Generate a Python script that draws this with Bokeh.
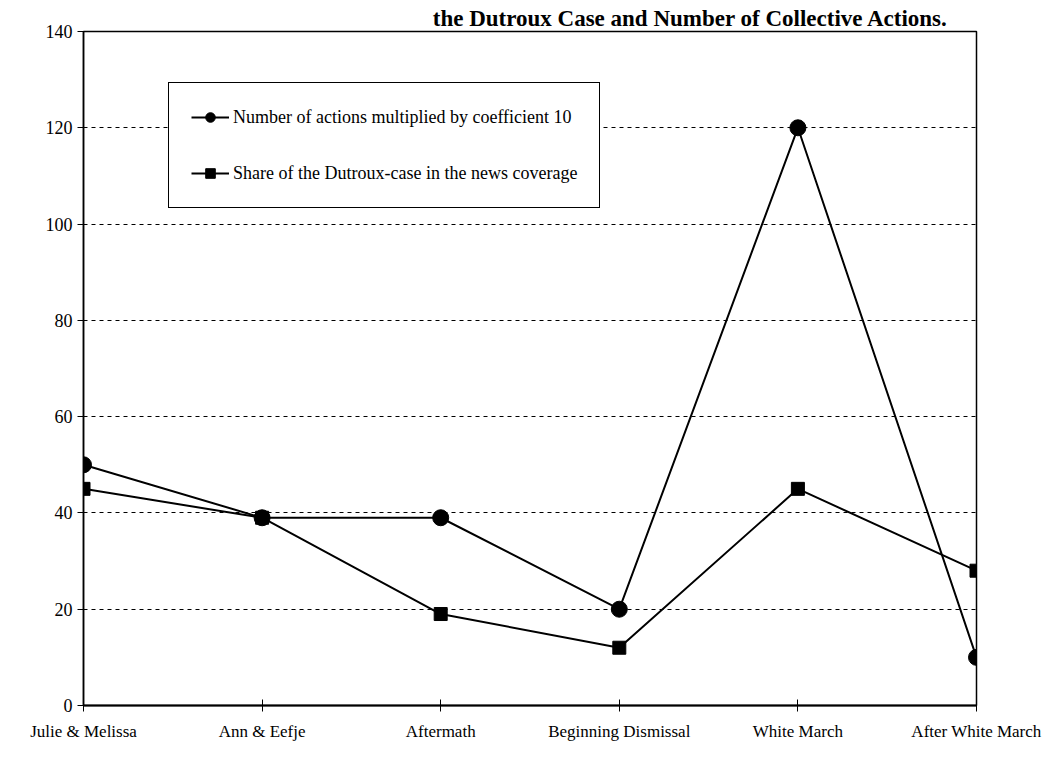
from bokeh.plotting import figure
from bokeh.models import (FixedTicker, Legend, LegendItem, Title, Range1d)
from bokeh.embed import file_html
from bokeh.resources import INLINE

categories = ["Julie & Melissa", "Ann & Eefje", "Aftermath",
              "Beginning Dismissal", "White March", "After White March"]
actions_x10 = [50, 39, 39, 20, 120, 10]
news_share = [45, 39, 19, 12, 45, 28]
y_ticks = [0, 20, 40, 60, 80, 100, 120, 140]
title_text = "the Dutroux Case and Number of Collective Actions."

SERIF = "Liberation Serif"

xs = list(range(len(categories)))

p = figure(width=1049, height=771, output_backend="svg", toolbar_location=None,
           x_range=Range1d(0, len(categories) - 1), y_range=Range1d(0, 140),
           min_border_left=83, min_border_right=73, min_border_top=31,
           min_border_bottom=66)
p.background_fill_color = "white"
p.border_fill_color = "white"
p.outline_line_color = "black"
p.outline_line_width = 1.5
p.outline_line_alpha = 1.0

t = Title(text=title_text, align="right", text_font=SERIF, text_font_size="23px",
          text_font_style="bold", text_color="black", offset=28, standoff=2)
p.add_layout(t, "above")

# axes
p.xaxis.ticker = FixedTicker(ticks=xs)
p.xaxis.major_label_overrides = {i: c for i, c in enumerate(categories)}
p.xaxis.major_label_text_font = SERIF
p.xaxis.major_label_text_font_size = "17px"
p.xaxis.major_label_text_color = "black"
p.xaxis.major_tick_in = 6
p.xaxis.major_tick_out = 6
p.xaxis.major_label_standoff = 10
p.xaxis.minor_tick_line_color = None
p.xaxis.axis_line_width = 2
p.xaxis.axis_line_color = "black"
p.xaxis.major_tick_line_color = "black"

p.yaxis.ticker = FixedTicker(ticks=y_ticks)
p.yaxis.major_label_text_font = SERIF
p.yaxis.major_label_text_font_size = "18px"
p.yaxis.major_label_text_color = "black"
p.yaxis.major_tick_in = 0
p.yaxis.major_tick_out = 6
p.yaxis.minor_tick_line_color = None
p.yaxis.axis_line_width = 1.5
p.yaxis.axis_line_color = "black"
p.yaxis.major_tick_line_color = "black"

p.xgrid.grid_line_color = None
p.ygrid.ticker = FixedTicker(ticks=y_ticks[1:-1])
p.ygrid.grid_line_color = "black"
p.ygrid.grid_line_dash = "4 4"
p.ygrid.grid_line_width = 1.2

# series
l1 = p.line(xs, actions_x10, line_color="black", line_width=2)
s1 = p.scatter(xs, actions_x10, marker="circle", size=16, fill_color="black",
               line_color="black")
l2 = p.line(xs, news_share, line_color="black", line_width=2)
s2 = p.scatter(xs, news_share, marker="square", size=13, fill_color="black",
               line_color="black")

legend = Legend(items=[
    LegendItem(label="Number of actions multiplied by coefficient 10", renderers=[l1, s1]),
    LegendItem(label="Share of the Dutroux-case in the news coverage", renderers=[l2, s2]),
], location=(85, 497))
legend.label_text_font = SERIF
legend.label_text_font_size = "18px"
legend.label_text_color = "black"
legend.border_line_color = "black"
legend.border_line_alpha = 1.0
legend.border_line_width = 1.5
legend.background_fill_color = "white"
legend.background_fill_alpha = 1.0
legend.padding = 22
legend.spacing = 32
legend.glyph_width = 38
legend.glyph_height = 24
legend.label_standoff = 4
legend.margin = 0
p.add_layout(legend, "center")

open("out.html", "w").write(file_html(p, INLINE))
